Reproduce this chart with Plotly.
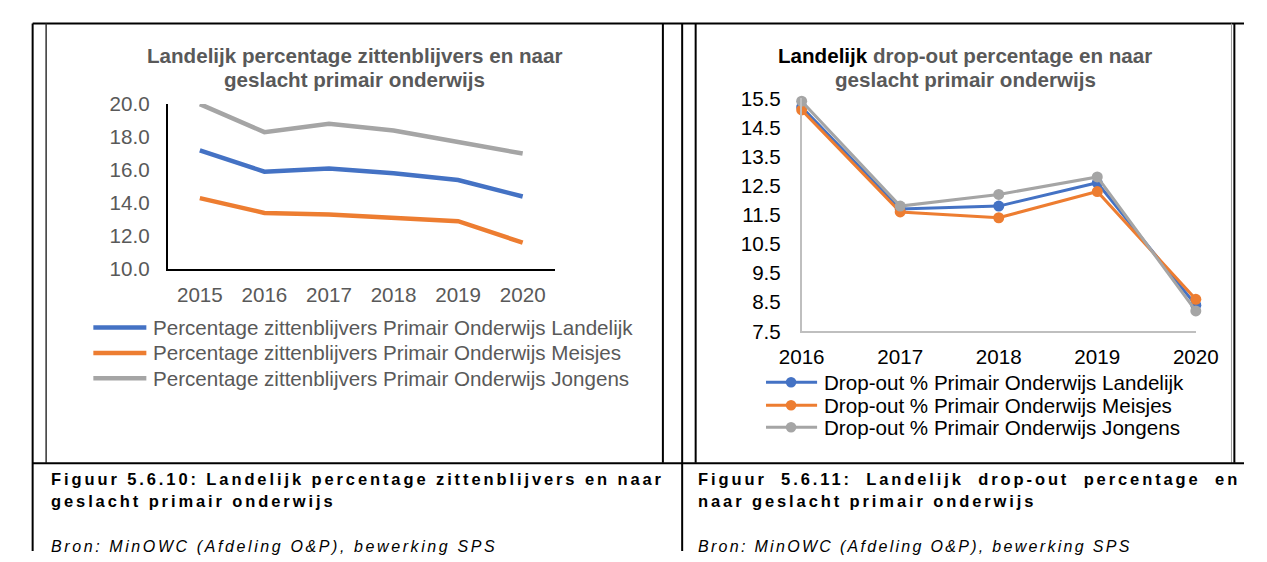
import plotly.graph_objects as go

W, H = 1267, 562

# ---- data ----
jaren_zitten = ["2015", "2016", "2017", "2018", "2019", "2020"]
zitten_landelijk = [17.2, 15.9, 16.1, 15.8, 15.4, 14.4]
zitten_meisjes = [14.3, 13.4, 13.3, 13.1, 12.9, 11.6]
zitten_jongens = [20.0, 18.3, 18.8, 18.4, 17.7, 17.0]
zitten_ticks = [10.0, 12.0, 14.0, 16.0, 18.0, 20.0]

jaren_dropout = [2016, 2017, 2018, 2019, 2020]
dropout_landelijk = [15.2, 11.7, 11.8, 12.6, 8.4]
dropout_meisjes = [15.1, 11.6, 11.4, 12.3, 8.6]
dropout_jongens = [15.4, 11.8, 12.2, 12.8, 8.2]
dropout_ticks = [7.5, 8.5, 9.5, 10.5, 11.5, 12.5, 13.5, 14.5, 15.5]

namen_zitten = [
    "Percentage zittenblijvers Primair Onderwijs Landelijk",
    "Percentage zittenblijvers Primair Onderwijs Meisjes",
    "Percentage zittenblijvers Primair Onderwijs Jongens",
]
namen_dropout = [
    "Drop-out % Primair Onderwijs Landelijk",
    "Drop-out % Primair Onderwijs Meisjes",
    "Drop-out % Primair Onderwijs Jongens",
]
kleuren = ["#4472C4", "#ED7D31", "#A5A5A5"]

FONT = "Liberation Sans, Arial, sans-serif"
GRIJS_TEKST = "#595959"
TEKST = 20.6


def px(x):
    return x / W


def py(y):
    return 1 - y / H


fig = go.Figure()

# left chart: lines only
for reeks, kleur, naam in zip([zitten_landelijk, zitten_meisjes, zitten_jongens], kleuren, namen_zitten):
    fig.add_trace(go.Scatter(
        x=jaren_zitten, y=reeks, name=naam, mode="lines",
        line=dict(color=kleur, width=4.5),
        xaxis="x", yaxis="y", showlegend=False, cliponaxis=False,
    ))

# right chart: lines with markers
for reeks, kleur, naam in zip([dropout_landelijk, dropout_meisjes, dropout_jongens], kleuren, namen_dropout):
    fig.add_trace(go.Scatter(
        x=jaren_dropout, y=reeks, name=naam, mode="lines+markers",
        line=dict(color=kleur, width=3),
        marker=dict(color=kleur, size=11),
        xaxis="x2", yaxis="y2", showlegend=False, cliponaxis=False,
    ))

shapes = []


def lijn(x0, y0, x1, y1, kleur="#000000", dikte=2):
    shapes.append(dict(type="line", xref="paper", yref="paper",
                       x0=px(x0), y0=py(y0), x1=px(x1), y1=py(y1),
                       line=dict(color=kleur, width=dikte)))


# table and chart frames
lijn(10, 12, W, 12)
lijn(10, 12, 10, H)
lijn(24, 12, 24, 470, "#333333", 1.5)
lijn(664, 12, 664, 470)
lijn(684, 12, 684, H)
lijn(698, 12, 698, 470)
lijn(1254, 12, 1254, 470, "#9a9a9a", 1)
lijn(1257, 12, 1257, 470)
lijn(10, 470.5, W, 470.5)

annotations = []


def tekst(x, y, t, size=TEKST, kleur=GRIJS_TEKST, anchor="left"):
    annotations.append(dict(xref="paper", yref="paper", x=px(x), y=py(y),
                            text=t, showarrow=False, xanchor=anchor, yanchor="middle",
                            align="center" if anchor == "center" else "left",
                            font=dict(family=FONT, size=size, color=kleur)))


# left legend
for naam, kleur, y in zip(namen_zitten, kleuren, [329, 355.5, 382]):
    lijn(73, y, 128, y, kleur, 4.5)
    tekst(133, y, naam)

# right legend
for naam, kleur, y in zip(namen_dropout, kleuren, [386, 410, 433]):
    lijn(771, y, 824, y, kleur, 3)
    shapes.append(dict(type="circle", xref="paper", yref="paper",
                       x0=px(797 - 5.5), x1=px(797 + 5.5), y0=py(y + 5.5), y1=py(y - 5.5),
                       fillcolor=kleur, line=dict(color=kleur, width=0)))
    tekst(829, y, naam, kleur="#000000")

# chart titles, one annotation per line
tekst(343.5, 45, "<b>Landelijk percentage zittenblijvers en naar</b>", anchor="center")
tekst(343.5, 70, "<b>geslacht primair onderwijs</b>", anchor="center")
tekst(978, 45, "<b><span style='color:#000000'>Landelijk</span> drop-out percentage en naar</b>",
      anchor="center")
tekst(978, 70, "<b>geslacht primair onderwijs</b>", anchor="center")

# figure captions (expanded character spacing)
CAP = 16.5
LS = "letter-spacing:2.9px"
tekst(27, 487, f"<b><span style='{LS}'>Figuur 5.6.10: Landelijk percentage zittenblijvers en naar</span></b>",
      size=CAP, kleur="#000000")
tekst(27, 510, f"<b><span style='{LS}'>geslacht primair onderwijs</span></b>", size=CAP, kleur="#000000")
tekst(698, 487, f"<b><span style='{LS};word-spacing:6.9px'>Figuur 5.6.11: Landelijk drop-out percentage en</span></b>",
      size=CAP, kleur="#000000")
tekst(698, 510, f"<b><span style='{LS}'>naar geslacht primair onderwijs</span></b>", size=CAP, kleur="#000000")
tekst(27, 557, "<i><span style='letter-spacing:2.6px'>Bron: MinOWC (Afdeling O&amp;P), bewerking SPS</span></i>",
      size=16, kleur="#000000")
tekst(698, 557, "<i><span style='letter-spacing:2.3px'>Bron: MinOWC (Afdeling O&amp;P), bewerking SPS</span></i>",
      size=16, kleur="#000000")

as_stijl = dict(showgrid=False, zeroline=False, showline=True, ticks="",
                tickfont=dict(family=FONT, size=TEKST))

fig.update_layout(
    width=W, height=H, autosize=False,
    margin=dict(l=0, r=0, t=0, b=0),
    paper_bgcolor="white", plot_bgcolor="rgba(0,0,0,0)",
    showlegend=False,
    xaxis=dict(domain=[px(150), px(552)], type="category", range=[-0.5, 5.5],
               linecolor="#000000", linewidth=1.5, ticklabelstandoff=6,
               anchor="y", **as_stijl),
    yaxis=dict(domain=[py(268), py(96)], range=[10, 20], tickvals=zitten_ticks,
               tickformat=".1f", linecolor="#000000", linewidth=1.5, ticklabelstandoff=12,
               anchor="x", **as_stijl),
    xaxis2=dict(domain=[px(808), px(1217)], range=[2016, 2020], tickvals=jaren_dropout,
                linecolor="#BFBFBF", linewidth=1.5, ticklabelstandoff=6,
                anchor="y2", **as_stijl),
    yaxis2=dict(domain=[py(333), py(90)], range=[7.5, 15.5], tickvals=dropout_ticks,
                tickformat=".1f", linecolor="#BFBFBF", linewidth=1.5, ticklabelstandoff=15,
                anchor="x2", **as_stijl),
    shapes=shapes,
    annotations=annotations,
)
fig.update_xaxes(tickfont_color=GRIJS_TEKST, selector=dict(anchor="y"))
fig.update_yaxes(tickfont_color=GRIJS_TEKST, selector=dict(anchor="x"))
fig.update_xaxes(tickfont_color="#000000", selector=dict(anchor="y2"))
fig.update_yaxes(tickfont_color="#000000", selector=dict(anchor="x2"))

fig.write_html("out.html")
